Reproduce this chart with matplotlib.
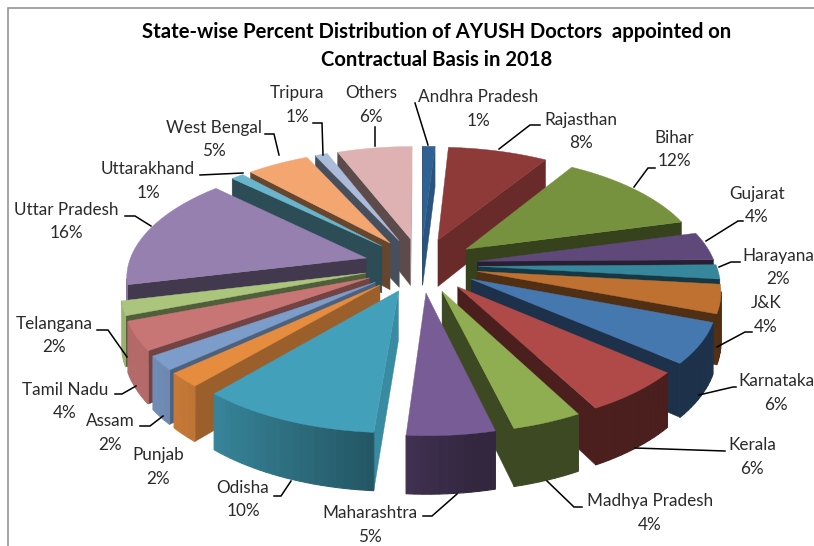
import numpy as np
import matplotlib
matplotlib.use("Agg")
import matplotlib.pyplot as plt
from matplotlib.patches import Polygon
from matplotlib.colors import to_rgb

plt.rcParams['font.family'] = ['Lato', 'DejaVu Sans']

states = ["Andhra Pradesh", "Rajasthan", "Bihar", "Gujarat", "Harayana", "J&K", "Karnataka", "Kerala",
          "Madhya Pradesh", "Maharashtra", "Odisha", "Punjab", "Assam", "Tamil Nadu", "Telangana",
          "Uttar Pradesh", "Uttarakhand", "West Bengal", "Tripura", "Others"]
percent = [1.0, 8.0, 12.0, 4.0, 2.0, 4.0, 5.6, 6.0, 4.0, 5.0, 10.3, 2.0, 2.0, 4.0, 2.0, 16.0, 1.0, 5.0, 1.0, 6.0]
colors = ["#2F6192", "#8E3A38", "#77923F", "#5F497A", "#36869C", "#BE7130", "#4678B0", "#B04A48",
          "#8FAD51", "#775C96", "#42A0BA", "#E58C3F", "#7C9CC9", "#C87675", "#ABC57D", "#9680B0",
          "#69B5CD", "#F4A671", "#ABBCDA", "#DEB2B2"]
label_pos = [(478, 97), (581, 120), (674, 138), (757, 194), (778, 256), (766, 303), (776, 381), (752, 445),
             (650, 501), (370, 513), (243, 488), (158, 455), (110, 421), (65, 390), (54, 324),
             (66, 210), (148, 169), (214, 128), (297, 93), (371, 93)]
leaders = [[(428, 145), (415, 103)], [(499, 149), (530, 125), (540, 125)], [(634, 187), (648, 168), (655, 168)],
           [(706, 241), (738, 221), (743, 221)], [(719, 267), (731, 262), (740, 262)], [(717, 347), (745, 332), (752, 332)],
           [(699, 395), (733, 387), (736, 387)], [(635, 448), (725, 451)], [(547, 481), (574, 507), (582, 507)],
           [(457, 494), (432, 516), (423, 516)], [(291, 481), (281, 496), (274, 496)], [], [(163, 416), (150, 426), (140, 426)],
           [(136, 386), (122, 394), (115, 394)], [(127, 357), (108, 330), (97, 330)], [(151, 226), (135, 216), (125, 216)],
           [(243, 173), (200, 175)], [(279, 155), (274, 134), (265, 134)], [(323, 155), (322, 123), (313, 123)], [(375, 146), (375, 127)]]

CX, CY, A, B, P, D, E = 421, 265, 238, 113, 0.145, 48, 0.24


def project(x, y, z=0.0):
    s = 1 / (1 + P * y)
    return CX + A * x * s, CY - B * y * s + z * D * s


def shade(c, f):
    return tuple(v * f for v in to_rgb(c))


fig = plt.figure(figsize=(8.14, 5.46), dpi=100)
ax = fig.add_axes([0, 0, 1, 1])
ax.set_xlim(0, 814)
ax.set_ylim(546, 0)
ax.axis('off')

total = sum(percent)
edges = np.cumsum([0] + percent) / total * 2 * np.pi
order = sorted(range(len(percent)), key=lambda i: -np.cos((edges[i] + edges[i + 1]) / 2))


def area(p):
    p = np.array(p)
    return 0.5 * np.sum(p[:, 0] * np.roll(p[:, 1], -1) - np.roll(p[:, 0], -1) * p[:, 1])


for i in order:
    t1, t2 = edges[i], edges[i + 1]
    mid = (t1 + t2) / 2
    ox, oy = E * np.sin(mid), E * np.cos(mid)
    c = colors[i]
    ts = np.linspace(t1, t2, max(3, int((t2 - t1) * 40)))
    pt = lambda t, z: project(ox + np.sin(t), oy + np.cos(t), z)
    apex = lambda z: project(ox, oy, z)
    # radial cut faces
    for t, sign in ((t1, -1), (t2, 1)):
        q = [apex(0), pt(t, 0), pt(t, 1), apex(1)]
        a = area(q) * sign
        if a > 0:
            nx = np.sin(t + sign * np.pi / 2)
            f = 0.42 + 0.45 * max(0, nx) ** 2
            ax.add_patch(Polygon(q, closed=True, fc=shade(c, f), ec=shade(c, f), lw=0.3, zorder=1))
    # outer wall in shaded steps, overlapping slightly so that no seams show
    for a0, a1 in zip(ts[:-1], ts[1:]):
        q = [pt(a0, 0), pt(a1, 0), pt(a1, 1), pt(a0, 1)]
        if area(q) > 0:
            continue
        f = float(np.clip(0.5 - 0.5 * np.sin((a0 + a1) / 2), 0.42, 0.9))
        ax.add_patch(Polygon(q, closed=True, fc=shade(c, f), ec=shade(c, f), lw=0.8, zorder=1))
    # top face
    top = [apex(0)] + [pt(t, 0) for t in ts]
    ax.add_patch(Polygon(top, closed=True, fc=c, ec=c, lw=0.3, zorder=1))

for line in leaders:
    if line:
        xs, ys = zip(*line)
        ax.plot(xs, ys, color='black', lw=1.1, zorder=2, solid_joinstyle='miter')

for name, pct, (x, y) in zip(states, percent, label_pos):
    ax.text(x, y, name, ha='center', va='center', fontsize=12.3, color='#2a2a2a', zorder=3)
    ax.text(x, y + 23.5, f"{pct:.0f}%", ha='center', va='center', fontsize=12.3, color='#2a2a2a', zorder=3)

ax.text(437, 32, "State-wise Percent Distribution of AYUSH Doctors  appointed on", ha='center', va='center',
        fontsize=14.6, fontweight='bold', color='black')
ax.text(437, 60, "Contractual Basis in 2018", ha='center', va='center', fontsize=14.6, fontweight='bold', color='black')
ax.plot([7.5, 7.5, 814], [546, 7.5, 7.5], color='#8c8c8c', lw=1.1, zorder=0, solid_joinstyle='miter')

fig.savefig("out.png", dpi=100)
